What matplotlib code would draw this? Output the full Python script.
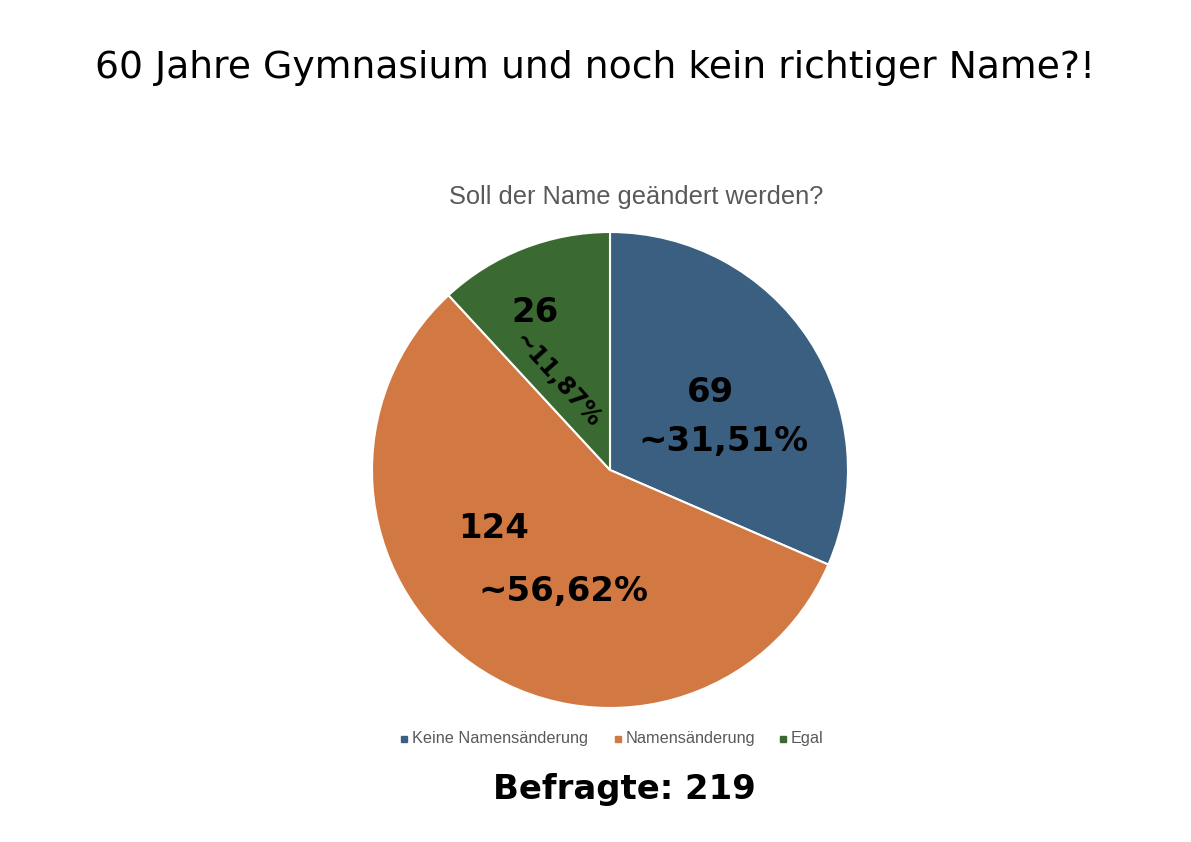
import matplotlib
matplotlib.use("Agg")
import matplotlib.pyplot as plt

categories = ["Keine Namensänderung", "Namensänderung", "Egal"]
counts = [69, 124, 26]
percent_labels = ["~31,51%", "~56,62%", "~11,87%"]
colors = ["#3a5f80", "#d27842", "#3a6a31"]
title = "60 Jahre Gymnasium und noch kein richtiger Name?!"
subtitle = "Soll der Name geändert werden?"
footer = "Befragte: 219"

W, H = 1191, 842
fig = plt.figure(figsize=(W / 100, H / 100), dpi=100)
ax = fig.add_axes([0, 0, 1, 1])
ax.set_xlim(0, W)
ax.set_ylim(0, H)
ax.set_aspect("equal")
ax.axis("off")

def Y(y):
    return H - y

ax.pie(counts, colors=colors, startangle=90, counterclock=False,
       center=(610, Y(470)), radius=238,
       wedgeprops=dict(edgecolor="white", linewidth=1.5))
ax.set_xlim(0, W)
ax.set_ylim(0, H)

ax.text(595, Y(68), title, ha="center", va="center", fontsize=27.2,
        family="DejaVu Sans", color="black")
ax.text(636, Y(197), subtitle, ha="center", va="center", fontsize=18.3,
        family="Liberation Sans", color="#595959")

bold = dict(family="DejaVu Sans", fontweight="bold", color="black",
            ha="center", va="center")
ax.text(710, Y(393), str(counts[0]), fontsize=24.4, **bold)
ax.text(723, Y(442), percent_labels[0], fontsize=24.4, **bold)
ax.text(494, Y(528), str(counts[1]), fontsize=24.4, **bold)
ax.text(563, Y(591), percent_labels[1], fontsize=24.4, **bold)
ax.text(535, Y(312), str(counts[2]), fontsize=24.4, **bold)
ax.text(557, Y(380), percent_labels[2], fontsize=17, rotation=-48,
        rotation_mode="anchor", **bold)

# legend
leg_x = [404, 618, 783]
for cx, cat, col in zip(leg_x, categories, colors):
    ax.plot([cx], [Y(739)], marker="s", markersize=5, color=col,
            linestyle="none")
    ax.text(cx + 8, Y(739), cat, ha="left", va="center", fontsize=11.7,
            family="Liberation Sans", color="#595959")

ax.text(624, Y(789), footer, ha="center", va="center", fontsize=24.4,
        family="DejaVu Sans", fontweight="bold", color="black")

fig.savefig("out.png", dpi=100)
